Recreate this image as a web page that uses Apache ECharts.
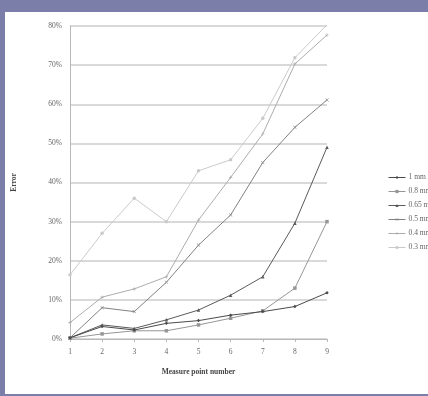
<!DOCTYPE html>
<html><head><meta charset="utf-8">
<script src="https://cdn.jsdelivr.net/npm/echarts@6/dist/echarts.min.js"></script>
<style>html,body{margin:0;padding:0;background:#7b7ea8;}#c{width:428px;height:396px;}</style>
</head><body><div id="c"></div>
<script>
const categories = ['1','2','3','4','5','6','7','8','9'];
const seriesNames = ['1 mm','0.8 mm','0.65 mm','0.5 mm','0.4 mm','0.3 mm'];
const s1mm   = [0.3, 3.2, 2.3, 4.0, 4.7, 6.1, 7.0, 8.3, 11.8];
const s08mm  = [0.2, 1.3, 2.1, 2.1, 3.6, 5.3, 7.2, 13.0, 30.0];
const s065mm = [0.3, 3.6, 2.7, 4.9, 7.4, 11.2, 15.9, 29.6, 49.0];
const s05mm  = [0.3, 8.0, 7.0, 14.5, 24.0, 31.7, 45.1, 54.1, 61.1];
const s04mm  = [4.2, 10.7, 12.8, 15.9, 30.4, 41.3, 52.4, 70.3, 77.7];
const s03mm  = [16.4, 27.0, 36.0, 30.0, 43.0, 45.8, 56.4, 71.9, 80.3];
const yTicks = [0, 10, 20, 30, 40, 50, 60, 70, 80];

const allData = [s1mm, s08mm, s065mm, s05mm, s04mm, s03mm];
const colors = ['#4a4a4a', '#969696', '#5a5a5a', '#828282', '#adadad', '#cacaca'];
const symbols = ['diamond', 'rect', 'triangle',
  'path://M0,1L1,0L5,4L9,0L10,1L6,5L10,9L9,10L5,6L1,10L0,9L4,5Z',
  'path://M4,0L6,0L6,4L10,4L10,6L6,6L6,10L4,10L4,6L0,6L0,4L4,4Z',
  'circle'];
const font = '"Liberation Serif", "DejaVu Serif", serif';

const chart = echarts.init(document.getElementById('c'), null, {renderer: 'canvas'});
chart.setOption({
  backgroundColor: '#7b7ea8',
  animation: false,
  graphic: [{type: 'rect', shape: {x: 5, y: 12, width: 423, height: 382}, style: {fill: '#ffffff'}, z: -10}],
  grid: {left: 70, right: 101, top: 26, bottom: 57, containLabel: false},
  legend: {
    orient: 'vertical', left: 383, top: 168,
    itemWidth: 17, itemHeight: 4, itemGap: 5,
    lineStyle: {width: 1},
    textStyle: {fontFamily: font, fontSize: 7.5, color: '#666', lineHeight: 9, padding: [0,0,0,-2]},
    data: seriesNames
  },
  xAxis: {
    type: 'category', data: categories, boundaryGap: false,
    name: 'Measure point number', nameLocation: 'middle', nameGap: 29,
    nameTextStyle: {fontFamily: font, fontSize: 7.5, fontWeight: 'bold', color: '#444'},
    axisLine: {lineStyle: {color: '#b8b8b8', width: 1}},
    axisTick: {show: true, alignWithLabel: true, length: 3, lineStyle: {color: '#b8b8b8'}},
    axisLabel: {fontFamily: font, fontSize: 7.5, color: '#666', margin: 9},
    splitLine: {show: false}
  },
  yAxis: {
    type: 'value', min: yTicks[0], max: yTicks[yTicks.length-1], interval: 10,
    name: 'Error', nameLocation: 'middle', nameGap: 52,
    nameTextStyle: {fontFamily: font, fontSize: 7.5, fontWeight: 'bold', color: '#444'},
    axisLine: {show: true, lineStyle: {color: '#b8b8b8', width: 1}},
    axisTick: {show: false},
    axisLabel: {fontFamily: font, fontSize: 7.5, color: '#666', margin: 8, formatter: '{value}%'},
    splitLine: {show: true, lineStyle: {color: '#cccccc', width: 1.5}}
  },
  series: seriesNames.map((n, i) => ({
    name: n, type: 'line', data: allData[i],
    symbol: symbols[i], symbolSize: 3.5, showSymbol: true,
    lineStyle: {color: colors[i], width: 1},
    itemStyle: {color: colors[i]},
    z: 10 - i
  }))
});
</script></body></html>
